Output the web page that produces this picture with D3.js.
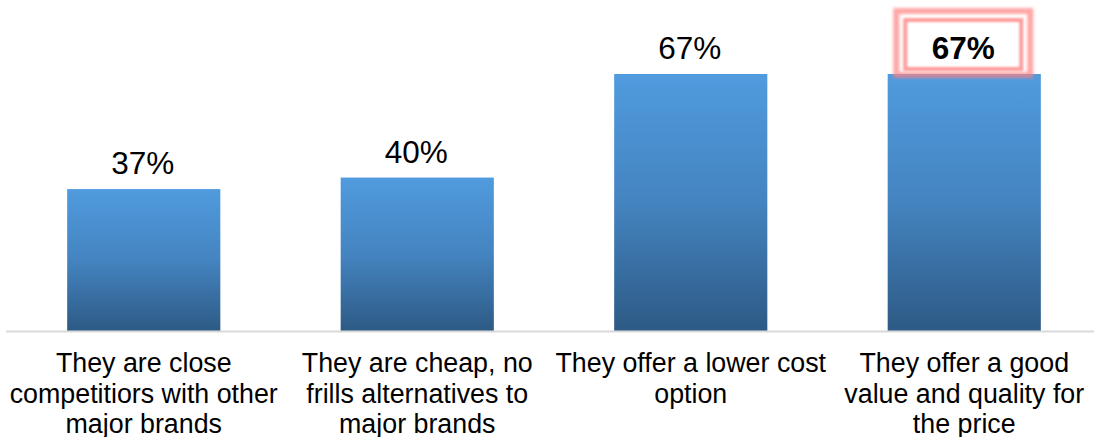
<!DOCTYPE html>
<html>
<head>
<meta charset="utf-8">
<script src="https://cdn.jsdelivr.net/npm/d3@7"></script>
<style>
  body { margin: 0; background: #fff; }
  svg { display: block; font-family: Arial, "Liberation Sans", sans-serif; }
</style>
</head>
<body>
<svg id="chart" width="1094" height="437"></svg>
<script>
// chart data
const categories = ["close", "cheap", "lowcost", "value"];
const values = [37, 40, 67, 67];
const tickLabels = [
  ["They are close", "competitiors with other", "major brands"],
  ["They are cheap, no", "frills alternatives to", "major brands"],
  ["They offer a lower cost", "option"],
  ["They offer a good", "value and quality for", "the price"]
];
const highlighted = ["value"];

const svg = d3.select("#chart");
const baseline = 331;

const xScale = d3.scaleBand()
  .domain(categories)
  .range([7, 1101])
  .paddingInner(0.44)
  .paddingOuter(0.22);

const yScale = d3.scaleLinear()
  .domain([0, 67])
  .range([baseline, 74]);

// bar gradient, light on top, dark at the bottom
const defs = svg.append("defs");
const grad = defs.append("linearGradient")
  .attr("id", "bar-gradient")
  .attr("x1", 0).attr("y1", 0)
  .attr("x2", 0).attr("y2", 1);
grad.selectAll("stop")
  .data([
    { offset: "0%", color: "#509bde" },
    { offset: "50%", color: "#4484c0" },
    { offset: "100%", color: "#2d5a85" }
  ])
  .enter().append("stop")
  .attr("offset", d => d.offset)
  .attr("stop-color", d => d.color);

// soft glow for the highlight box
const glow = defs.append("filter")
  .attr("id", "glow")
  .attr("x", "-20%").attr("y", "-40%")
  .attr("width", "140%").attr("height", "180%");
glow.append("feGaussianBlur").attr("stdDeviation", 1.6);

const glowInner = defs.append("filter")
  .attr("id", "glow-inner")
  .attr("x", "-20%").attr("y", "-40%")
  .attr("width", "140%").attr("height", "180%");
glowInner.append("feGaussianBlur").attr("stdDeviation", 0.9);

// bars
svg.selectAll(".bar")
  .data(categories)
  .enter().append("rect")
  .attr("class", "bar")
  .attr("x", d => xScale(d))
  .attr("y", (d, i) => yScale(values[i]))
  .attr("width", xScale.bandwidth())
  .attr("height", (d, i) => baseline - yScale(values[i]))
  .attr("fill", "url(#bar-gradient)");

// axis line
svg.append("line")
  .attr("x1", 6).attr("x2", 1094)
  .attr("y1", baseline + 0.5).attr("y2", baseline + 0.5)
  .attr("stroke", "#d9d9d9")
  .attr("stroke-width", 2);

// value labels
svg.selectAll(".value-label")
  .data(categories)
  .enter().append("text")
  .attr("class", "value-label")
  .attr("x", d => xScale(d) + xScale.bandwidth() / 2 - 1)
  .attr("y", (d, i) => yScale(values[i]) - 15)
  .attr("text-anchor", "middle")
  .style("font-size", "31.5px")
  .style("font-weight", d => highlighted.includes(d) ? "bold" : "normal")
  .attr("fill", "#000")
  .text((d, i) => values[i] + "%");

// highlight box round the bold label
highlighted.forEach(d => {
  const cx = xScale(d) + xScale.bandwidth() / 2 - 1;
  const top = yScale(values[categories.indexOf(d)]);
  svg.append("rect")
    .attr("x", cx - 67).attr("y", top - 63)
    .attr("width", 134).attr("height", 64)
    .attr("fill", "none")
    .attr("stroke", "#ff8080")
    .attr("stroke-opacity", 0.7)
    .attr("stroke-width", 6)
    .attr("filter", "url(#glow)");
  svg.append("rect")
    .attr("x", cx - 58).attr("y", top - 54)
    .attr("width", 116).attr("height", 49)
    .attr("fill", "none")
    .attr("stroke", "#ff8a8a")
    .attr("stroke-opacity", 0.85)
    .attr("stroke-width", 4)
    .attr("filter", "url(#glow-inner)");
});

// category labels, pre-wrapped
const ticks = svg.selectAll(".tick-label")
  .data(categories)
  .enter().append("text")
  .attr("class", "tick-label")
  .attr("text-anchor", "middle")
  .style("font-size", "26.8px")
  .attr("fill", "#000");

ticks.each(function (d, i) {
  const cx = xScale(d) + xScale.bandwidth() / 2;
  d3.select(this).selectAll("tspan")
    .data(tickLabels[i])
    .enter().append("tspan")
    .attr("x", cx)
    .attr("y", (t, j) => 372 + j * 30.7)
    .text(t => t);
});
</script>
</body>
</html>
